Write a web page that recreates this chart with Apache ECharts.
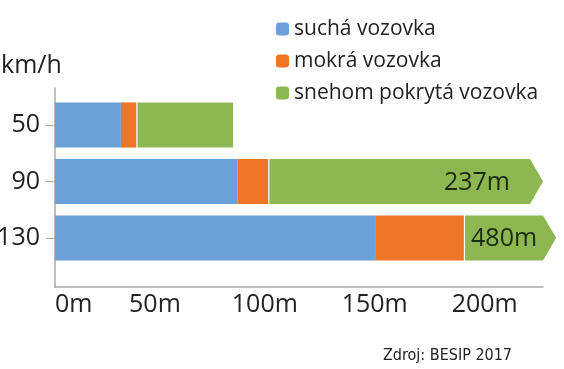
<!DOCTYPE html>
<html><head><meta charset="utf-8">
<script src="https://cdn.jsdelivr.net/npm/echarts@6/dist/echarts.min.js"></script>
<style>html,body{margin:0;padding:0;background:#fff}#c{width:564px;height:369px}</style>
</head><body><div id="c"></div>
<script>
// Data (metres of stopping distance)
const speeds = ['50', '90', '130'];
const dryTotal = [30, 83, 146];      // suchá vozovka
const wetTotal = [37, 97, 186];      // mokrá vozovka (cumulative end)
const snowTotal = [81, 237, 480];    // snehom pokrytá vozovka (cumulative end)
const seriesNames = ['suchá vozovka', 'mokrá vozovka', 'snehom pokrytá vozovka'];
const xTicks = [0, 50, 100, 150, 200];
const AXIS_MAX = 222;

const FONT = '"Open Sans", sans-serif';
const colors = ['#6CA0D8', '#EE7426', '#8DB750'];

const wetPart = wetTotal.map((v, i) => v - dryTotal[i]);
const snowData = snowTotal.map((v, i) => [i, wetTotal[i], v]);

const measureCtx = document.createElement('canvas').getContext('2d');
function textWidth(t, font) { measureCtx.font = font; return measureCtx.measureText(t).width; }

const chart = echarts.init(document.getElementById('c'), null, {renderer: 'canvas'});
chart.setOption({
  animation: false,
  textStyle: {fontFamily: FONT},
  title: [
    {text: 'km/h', left: 1, top: 53, padding: 0,
     textStyle: {fontFamily: FONT, fontSize: 25, fontWeight: 'normal', color: '#222'}},
    {text: 'Zdroj: BESIP 2017', right: 52, top: 348, padding: 0,
     textStyle: {fontFamily: '"DejaVu Sans Condensed", ' + FONT, fontSize: 16, fontWeight: 'normal', color: '#222'}}
  ],
  legend: {
    orient: 'vertical', left: 271, top: 12,
    itemWidth: 13, itemHeight: 13, itemGap: 8, icon: 'roundRect',
    textStyle: {fontFamily: FONT, fontSize: 21, lineHeight: 24, color: '#222'},
    data: seriesNames
  },
  grid: [
    {left: 55, right: 21, top: 96.75, bottom: 102.75, containLabel: false, outerBoundsMode: 'none'},
    {left: 55, right: 21, top: 88, bottom: 82, containLabel: false, outerBoundsMode: 'none'}
  ],
  xAxis: [
    {gridIndex: 0, type: 'value', min: 0, max: AXIS_MAX, show: false},
    {gridIndex: 1, type: 'value', min: 0, max: AXIS_MAX, interval: 50,
     axisLine: {show: true, onZero: false, lineStyle: {color: '#a9a9a9', width: 1.5}},
     axisTick: {show: false}, splitLine: {show: false},
     axisLabel: {showMaxLabel: false, alignMinLabel: 'left', margin: 5,
       fontFamily: FONT, fontSize: 25, color: '#222', padding: [0, 20, 0, 0],
       formatter: v => (xTicks.indexOf(v) >= 0 ? v + 'm' : '')}}
  ],
  yAxis: [
    {gridIndex: 0, type: 'category', data: speeds, inverse: true,
     axisLine: {show: false},
     axisTick: {show: true, alignWithLabel: true, length: 9, lineStyle: {color: '#a9a9a9'}},
     axisLabel: {margin: 15, fontFamily: FONT, fontSize: 25, color: '#222'}},
    {gridIndex: 1, type: 'value', min: 0, max: 1,
     axisLine: {show: true, lineStyle: {color: '#a9a9a9', width: 1.5}},
     axisTick: {show: false}, axisLabel: {show: false}, splitLine: {show: false}}
  ],
  series: [
    {name: seriesNames[0], type: 'bar', stack: 's', xAxisIndex: 0, yAxisIndex: 0,
     barWidth: '80%', itemStyle: {color: colors[0]}, data: dryTotal},
    {name: seriesNames[1], type: 'bar', stack: 's', xAxisIndex: 0, yAxisIndex: 0,
     barWidth: '80%', itemStyle: {color: colors[1]}, data: wetPart},
    {name: seriesNames[2], type: 'custom', xAxisIndex: 0, yAxisIndex: 0,
     itemStyle: {color: colors[2]}, clip: false,
     encode: {x: [1, 2], y: 0},
     data: snowData,
     renderItem: function (params, api) {
       const yi = api.value(0), s = api.value(1), e = api.value(2);
       const p0 = api.coord([s, yi]);
       const pEnd = api.coord([Math.min(e, AXIS_MAX), yi]);
       const h = api.size([0, 1])[1] * 0.8;
       const top = p0[1] - h / 2, bot = p0[1] + h / 2;
       const x0 = p0[0] + 1.2;
       if (e > AXIS_MAX) {
         const font = '25px ' + FONT;
         const label = e + 'm';
         const lw = textWidth(label, font);
         const head = 13, pad = 6;
         const tip = Math.max(pEnd[0], x0 + lw + 2 * pad + head);
         const bodyEnd = tip - head;
         const rpad = Math.min(20, (bodyEnd - x0 - lw) / 2);
         return {type: 'group', children: [
           {type: 'polygon', shape: {points: [[x0, top], [bodyEnd, top], [tip, p0[1]], [bodyEnd, bot], [x0, bot]]},
            style: {fill: colors[2]}},
           {type: 'text', style: {text: label, x: bodyEnd - rpad, y: p0[1] + 1, align: 'right', verticalAlign: 'middle',
             font: font, fill: '#1c2a12'}}
         ]};
       }
       return {type: 'rect', shape: {x: x0, y: top, width: pEnd[0] - x0, height: h}, style: {fill: colors[2]}};
     }}
  ]
});
</script></body></html>
